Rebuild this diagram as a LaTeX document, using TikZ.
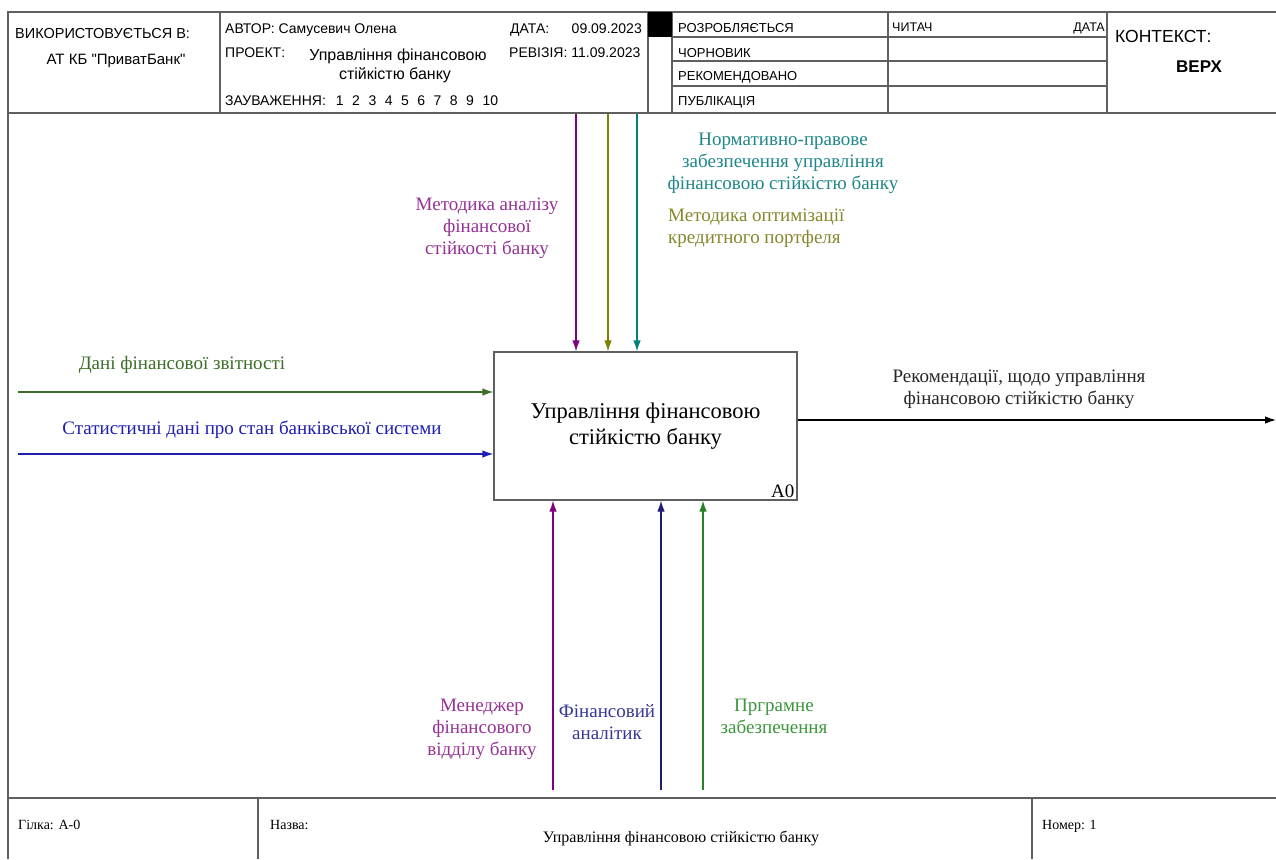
\documentclass[tikz,border=0pt]{standalone}
\usepackage{fontspec}
\setmainfont{Liberation Serif}
\newfontfamily\hdrfont{Liberation Sans}
\usetikzlibrary{calc,positioning,arrows.meta}

\definecolor{mpurple}{RGB}{128,0,128}
\definecolor{lpurple}{RGB}{150,50,150}
\definecolor{molive}{RGB}{128,128,0}
\definecolor{lolive}{RGB}{135,135,45}
\definecolor{mteal}{RGB}{0,128,128}
\definecolor{lteal}{RGB}{30,135,135}
\definecolor{mgreen}{RGB}{60,110,40}
\definecolor{mblue}{RGB}{30,30,180}
\definecolor{mnavy}{RGB}{30,30,110}
\definecolor{lnavy}{RGB}{55,55,150}
\definecolor{bgreen}{RGB}{40,130,40}
\definecolor{lgreen}{RGB}{60,150,60}
\definecolor{framegray}{RGB}{95,95,95}

\tikzset{
 frameline/.style={draw=framegray, line width=1.4pt},
 hdr/.style={font=\hdrfont\fontsize{14}{16}\selectfont, inner sep=0pt, anchor=base west},
 hdrstat/.style={font=\hdrfont\fontsize{13}{15}\selectfont, inner sep=0pt, anchor=base west},
 hdrsmall/.style={font=\hdrfont\fontsize{12.5}{14}\selectfont, inner sep=0pt, anchor=base west},
 lbl/.style={font=\fontsize{19}{22}\selectfont, align=center, inner sep=0pt},
 arr/.style={line width=1.2pt, -{Latex[length=11pt,width=7.5pt]}},
 ftr/.style={font=\fontsize{14}{16}\selectfont, inner sep=0pt, anchor=base west},
 funcbox/.style={draw=framegray, line width=1.2pt, minimum width=303pt, minimum height=148pt,
   align=center, font=\fontsize{22.5}{26}\selectfont},
}

\begin{document}
\begin{tikzpicture}[x=1pt,y=-1pt]
\useasboundingbox (0,0) rectangle (1276,859);
\fill[white] (0,0) rectangle (1276,859);

% header frame
\draw[frameline] (8,859) -- (8,12) -- (1276,12);
\draw[frameline] (8,113) -- (1276,113);
\foreach \xx in {220,648,672,888,1107}
  \draw[frameline] (\xx,12) -- (\xx,113);
\foreach \yy in {37,61,86}
  \draw[frameline] (672,\yy) -- (1107,\yy);
\fill[black] (648,12) rectangle (672,37);

% header texts
\node[hdr, font=\hdrfont\fontsize{14.5}{16}\selectfont] (used) at (15,38) {ВИКОРИСТОВУЄТЬСЯ В:};
\node[hdr, anchor=base, font=\hdrfont\fontsize{15}{17}\selectfont] (org) at (116,64) {АТ КБ "ПриватБанк"};
\node[hdr] (author) at (225,34) {АВТОР: Самусевич Олена};
\node[hdr] (project) at (225,57) {ПРОЕКТ:};
\node[hdr, anchor=base, font=\hdrfont\fontsize{16}{18}\selectfont] (projname) at (398,60) {Управління фінансовою};
\node[hdr, anchor=base, font=\hdrfont\fontsize{16}{18}\selectfont] (projname2) at (395,79) {стійкістю банку};
\node[hdr] (notes) at (225,105) {ЗАУВАЖЕННЯ:\hspace{10pt}1\hspace{8.5pt}2\hspace{8.5pt}3\hspace{8.5pt}4\hspace{8.5pt}5\hspace{8.5pt}6\hspace{8.5pt}7\hspace{8.5pt}8\hspace{8.5pt}9\hspace{8.5pt}10};
\node[hdr] (date) at (510,34) {ДАТА:};
\node[hdr, anchor=base east] (dateval) at (642,34) {09.09.2023};
\node[hdr] (rev) at (509,57) {РЕВІЗІЯ: 11.09.2023};
\node[hdrstat] (st1) at (678,33) {РОЗРОБЛЯЄТЬСЯ};
\node[hdrstat] (st2) at (678,57) {ЧОРНОВИК};
\node[hdrstat] (st3) at (678,81) {РЕКОМЕНДОВАНО};
\node[hdrstat] (st4) at (678,105) {ПУБЛІКАЦІЯ};
\node[hdrsmall] (reader) at (892,32) {ЧИТАЧ};
\node[hdrsmall, anchor=base east] (rdate) at (1105,32) {ДАТА};
\node[hdr, font=\hdrfont\fontsize{17.5}{19}\selectfont] (context) at (1115,43) {КОНТЕКСТ:};
\node[hdr, anchor=base, font=\hdrfont\bfseries\fontsize{17}{19}\selectfont] (top) at (1199,73) {ВЕРХ};

% function block
\node[funcbox] (fin) at (645.5,426) {Управління фінансовою\\стійкістю банку};
\node[anchor=south east, inner sep=3pt, font=\fontsize{19}{21}\selectfont] (a0) at (fin.south east) {A0};

% controls
\coordinate (t1) at (576,114);
\coordinate (t2) at (608,114);
\coordinate (t3) at (637,114);
\draw[arr, mpurple] (t1) -- (t1 |- fin.north);
\draw[arr, molive] (t2) -- (t2 |- fin.north);
\draw[arr, mteal] (t3) -- (t3 |- fin.north);
\node[lbl, text=lpurple] (ctl1) at (487,228) {Методика аналізу\\фінансової\\стійкості банку};
\node[lbl, text=lteal] (ctl3) at (783,163) {Нормативно-правове\\забезпечення управління\\фінансовою стійкістю банку};
\node[lbl, text=lolive, align=left, anchor=west] (ctl2) at (668,228) {Методика оптимізації\\кредитного портфеля};

% inputs
\coordinate (l1) at (18,392);
\coordinate (l2) at (18,454);
\draw[arr, mgreen] (l1) -- (l1 -| fin.west);
\draw[arr, mblue] (l2) -- (l2 -| fin.west);
\node[lbl, text=mgreen] (in1) at (182,365) {Дані фінансової звітності};
\node[lbl, text=mblue] (in2) at (252,430) {Статистичні дані про стан банківської системи};

% output
\coordinate (o1) at (1276,420);
\draw[arr, black] (fin.east |- o1) -- (o1);
\node[lbl, text=black!85] (out1) at (1019,389) {Рекомендації, щодо управління\\фінансовою стійкістю банку};

% mechanisms
\coordinate (b1) at (553,790);
\coordinate (b2) at (661,790);
\coordinate (b3) at (703,790);
\draw[arr, mpurple] (b1) -- (b1 |- fin.south);
\draw[arr, mnavy] (b2) -- (b2 |- fin.south);
\draw[arr, bgreen] (b3) -- (b3 |- fin.south);
\node[lbl, text=lpurple] (mech1) at (482,729) {Менеджер\\фінансового\\відділу банку};
\node[lbl, text=lnavy] (mech2) at (607,722) {Фінансовий\\аналітик};
\node[lbl, text=lgreen] (mech3) at (774,716) {Пргрaмне\\забезпечення};

% footer
\draw[frameline] (8,798) -- (1276,798);
\draw[frameline] (258,798) -- (258,859);
\draw[frameline] (1032,798) -- (1032,859);
\node[ftr] (branch) at (18,829) {Гілка: А-0};
\node[ftr] (title) at (270,829) {Назва:};
\node[ftr, anchor=base, font=\fontsize{16}{18}\selectfont] (titletxt) at (681,842) {Управління фінансовою стійкістю банку};
\node[ftr] (number) at (1042,829) {Номер: 1};
\end{tikzpicture}
\end{document}
